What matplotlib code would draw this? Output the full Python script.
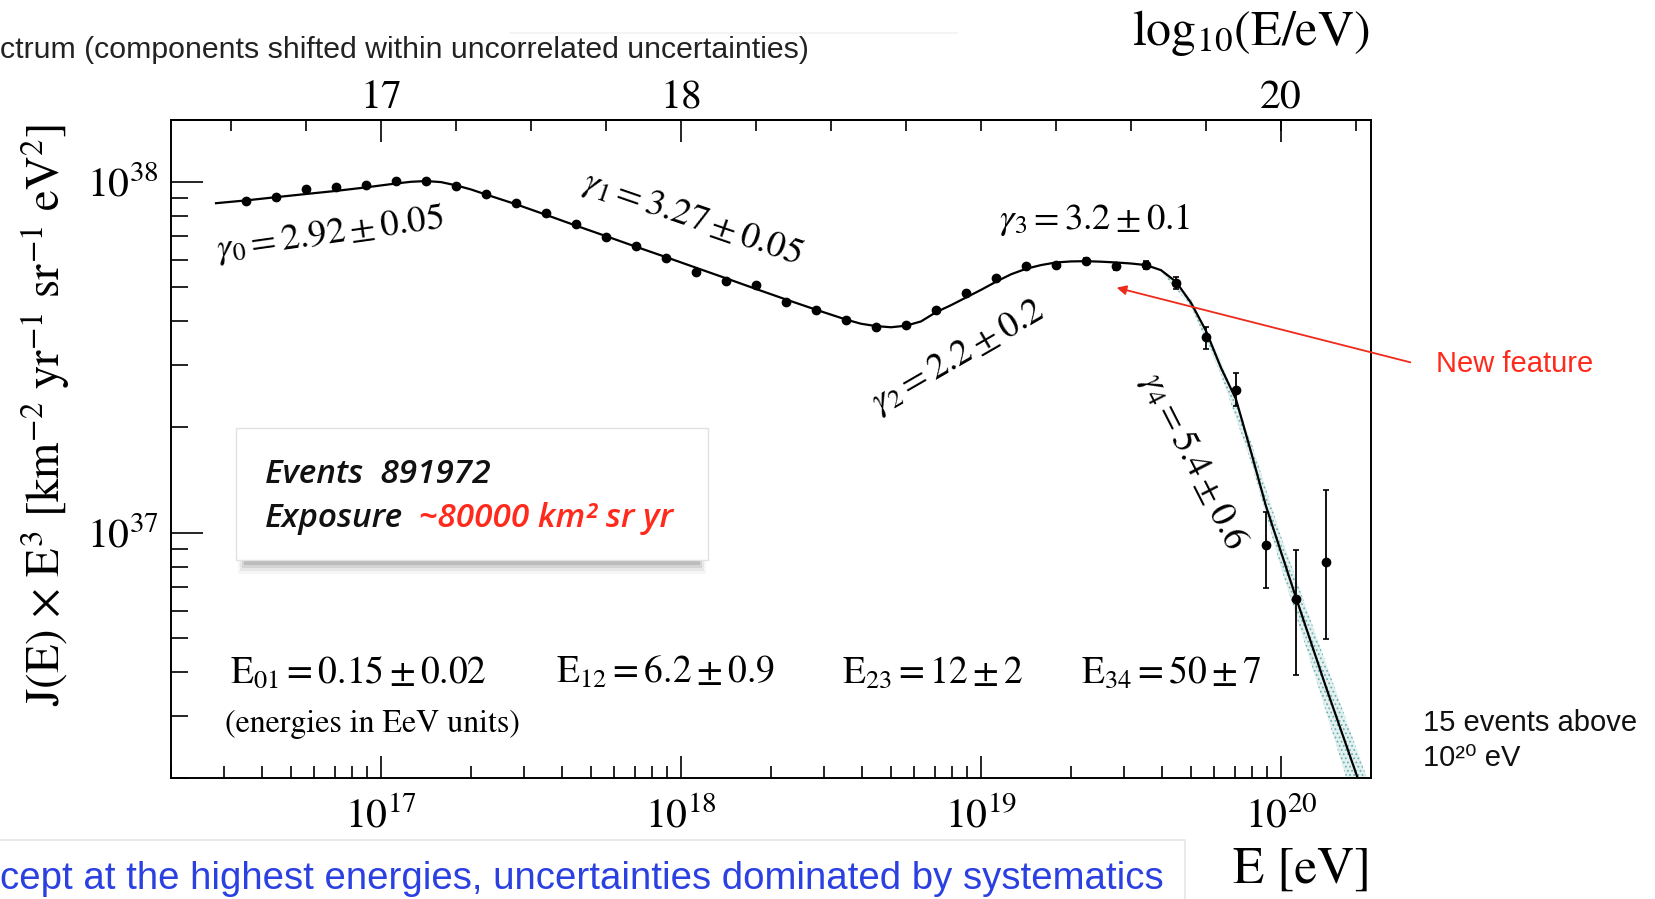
#!/usr/bin/env python3
# combined energy spectrum, E^3-weighted, with the broken power-law fit

import numpy as np
import matplotlib
matplotlib.use('Agg')
import matplotlib.pyplot as plt
from matplotlib.ticker import MultipleLocator, NullFormatter
from matplotlib.patches import Rectangle
from matplotlib.lines import Line2D

plt.rcParams['font.family'] = 'STIXGeneral'
plt.rcParams['mathtext.fontset'] = 'stix'
plt.rcParams['hatch.linewidth'] = 0.8

# data points: bin centres in log10(E/eV), J x E^3 in units of 1e37
log_e = [16.55, 16.65, 16.75, 16.85, 16.95, 17.05, 17.15, 17.25, 17.35, 17.45,
         17.55, 17.65, 17.75, 17.85, 17.95, 18.05, 18.15, 18.25, 18.35, 18.45,
         18.55, 18.65, 18.75, 18.85, 18.95, 19.05, 19.15, 19.25, 19.35, 19.45,
         19.55, 19.65, 19.75, 19.85, 19.95, 20.05, 20.15]
flux = [8.83, 9.08, 9.53, 9.64, 9.79, 10.05, 10.02, 9.70, 9.23, 8.69,
        8.15, 7.60, 6.98, 6.55, 6.08, 5.52, 5.22, 5.09, 4.53, 4.32,
        4.03, 3.86, 3.90, 4.32, 4.82, 5.33, 5.75, 5.81, 5.94, 5.74,
        5.79, 5.14, 3.62, 2.55, 0.925, 0.649, 0.826]

# error bars (only visible for the highest energy bins)
err_log_e = [19.35, 19.45, 19.55, 19.65, 19.75, 19.85, 19.95, 20.05, 20.15]
err_lo = [0.12, 0.12, 0.15, 0.20, 0.28, 0.26, 0.227, 0.255, 0.328]
err_hi = [0.12, 0.12, 0.15, 0.20, 0.24, 0.31, 0.223, 0.246, 0.494]

# fit curve
fit_log_e = [16.45, 16.55, 16.65, 16.75, 16.85, 16.95, 17.05, 17.10, 17.15, 17.20,
             17.25, 17.30, 17.35, 17.45, 17.55, 17.65, 17.75, 17.85, 17.95, 18.05,
             18.15, 18.25, 18.35, 18.45, 18.55, 18.60, 18.65, 18.70, 18.75, 18.80,
             18.85, 18.90, 18.95, 19.00, 19.05, 19.10, 19.15, 19.20, 19.25, 19.30,
             19.35, 19.40, 19.45, 19.50, 19.55, 19.60, 19.65, 19.70, 19.75, 19.80,
             19.85, 19.90, 19.95, 20.05, 20.15, 20.26]
fit_flux = [8.69, 8.85, 9.04, 9.23, 9.42, 9.64, 9.89, 10.00, 10.05, 9.98,
            9.77, 9.51, 9.20, 8.63, 8.05, 7.50, 7.00, 6.53, 6.10, 5.69,
            5.31, 4.95, 4.62, 4.32, 4.05, 3.94, 3.88, 3.85, 3.89, 4.00,
            4.25, 4.45, 4.68, 4.92, 5.19, 5.45, 5.65, 5.79, 5.89, 5.93,
            5.94, 5.92, 5.89, 5.85, 5.79, 5.60, 5.19, 4.52, 3.76, 2.95,
            2.40, 1.70, 1.19, 0.653, 0.363, 0.195]

# uncertainty band on the last power law
band_log_e = [19.6, 19.7, 19.8, 19.9, 20.0, 20.1, 20.2, 20.3]
band_lo = [5.54, 4.42, 2.82, 1.59, 0.794, 0.425, 0.224, 0.118]
band_hi = [5.66, 4.62, 3.09, 1.82, 0.978, 0.560, 0.323, 0.186]

W, H = 1656, 899
def fx(x):
    return x / W
def fy(y):
    return 1 - y / H

fig = plt.figure(figsize=(W / 100, H / 100), dpi=100)
ax = fig.add_axes([fx(171), fy(778), 1200 / W, 658 / H])

e = lambda v: 10 ** np.array(v)
j = lambda v: np.array(v) * 1e37

ax.fill_between(e(band_log_e), j(band_lo), j(band_hi), facecolor='#e2f0f0',
                edgecolor='#6fb0b0', hatch='....', lw=0, zorder=1)
ax.plot(e(fit_log_e), j(fit_flux), color='k', lw=1.6, zorder=3)
eflux = [flux[log_e.index(v)] for v in err_log_e]
ax.errorbar(e(err_log_e), j(eflux), yerr=[j(err_lo), j(err_hi)], fmt='none',
            ecolor='k', elinewidth=1.3, capsize=2, capthick=1.2, zorder=4)
ax.plot(e(log_e), j(flux), 'o', color='k', ms=6, zorder=5)

ax.set_xscale('log')
ax.set_yscale('log')
ax.set_xlim(10 ** 16.3, 10 ** 20.3)
ax.set_ylim(2e36, 1.5e38)

for s in ax.spines.values():
    s.set_linewidth(1.4)
ax.tick_params(which='both', direction='in', top=False, right=False, width=1.2)
ax.tick_params(axis='x', which='major', length=16, labelsize=30, pad=14)
ax.tick_params(axis='x', which='minor', length=8.5)
ax.tick_params(axis='y', which='major', length=23, labelsize=30, pad=9)
ax.tick_params(axis='y', which='minor', length=12)
ax.xaxis.set_minor_formatter(NullFormatter())
ax.yaxis.set_minor_formatter(NullFormatter())

sec = ax.secondary_xaxis('top', functions=(np.log10, lambda v: 10 ** v))
sec.set_xticks([17, 18, 19, 20])
sec.set_xticklabels(['17', '18', '19', '20'])
sec.xaxis.set_minor_locator(MultipleLocator(0.25))
sec.xaxis.set_minor_formatter(NullFormatter())
sec.tick_params(which='both', direction='in', width=1.2)
sec.tick_params(which='major', length=16, labelsize=30, pad=2)
sec.tick_params(which='minor', length=8)
sec.spines['top'].set_linewidth(1.4)

# axis titles
fig.text(fx(45), fy(415), r'J(E) $\times$ E$^3$ [km$^{-2}$ yr$^{-1}$ sr$^{-1}$ eV$^2$]',
         rotation=90, ha='center', va='center', fontsize=33.5)
fig.text(fx(1371), fy(883), 'E [eV]', ha='right', va='baseline', fontsize=37)
fig.text(fx(1370), fy(45), r'log$_{10}$(E/eV)', ha='right', va='baseline', fontsize=36)

# slopes
gam = [(r'$\gamma_0 = 2.92 \pm 0.05$', 330, 234, 8),
       (r'$\gamma_1 = 3.27 \pm 0.05$', 692, 218, -19),
       (r'$\gamma_2 = 2.2 \pm 0.2$', 958, 357, 30),
       (r'$\gamma_3 = 3.2 \pm 0.1$', 1095, 220, 0),
       (r'$\gamma_4 = 5.4 \pm 0.6$', 1193, 461, -63)]
for txt, x, y, rot in gam:
    fig.text(fx(x), fy(y), txt, ha='center', va='center', rotation=rot,
             rotation_mode='anchor', fontsize=26.5)

# break energies
brk = [(r'$\mathrm{E}_{01} = 0.15 \pm 0.02$', 230),
       (r'$\mathrm{E}_{12} = 6.2 \pm 0.9$', 556),
       (r'$\mathrm{E}_{23} = 12 \pm 2$', 842),
       (r'$\mathrm{E}_{34} = 50 \pm 7$', 1081)]
for txt, x in brk:
    fig.text(fx(x), fy(683), txt, ha='left', va='baseline', fontsize=27)
fig.text(fx(225), fy(732), '(energies in EeV units)', ha='left', va='baseline', fontsize=23)

# events / exposure box with a soft shadow
for k, a in enumerate([0.06, 0.10, 0.16, 0.24]):
    fig.add_artist(Rectangle((fx(238 + 2 * k), fy(574 - 3 * k)), (468 - 4 * k) / W, 16 / H,
                             transform=fig.transFigure, facecolor='#707070',
                             edgecolor='none', alpha=a, zorder=5))
fig.add_artist(Rectangle((fx(236), fy(560)), 472 / W, 132 / H, transform=fig.transFigure,
                         facecolor='white', edgecolor='#e2e2e2', lw=1, zorder=6))
box_font = dict(family='Open Sans', style='italic', weight='semibold', fontsize=24, zorder=7)
fig.text(fx(265), fy(483), 'Events  891972', ha='left', va='baseline', color='#111111', **box_font)
fig.text(fx(265), fy(527), 'Exposure', ha='left', va='baseline', color='#111111', **box_font)
fig.text(fx(419), fy(527), '~80000 km² sr yr', ha='left', va='baseline', color='#ff2a1c', **box_font)

# new feature arrow
ax.annotate('', xy=(1114, H - 287), xycoords='figure pixels',
            xytext=(1413, H - 363), textcoords='figure pixels',
            arrowprops=dict(arrowstyle='-|>', color='#ee2a1c', lw=1.3, mutation_scale=14))
sans = ['Liberation Sans', 'DejaVu Sans']
fig.text(fx(1436), fy(364), 'New feature', ha='left', va='center', color='#ff2a1c',
         fontsize=21, family=sans)
fig.text(fx(1423), fy(723), '15 events above', ha='left', va='center', color='#111111',
         fontsize=21, family=sans)
fig.text(fx(1423), fy(758), '10²⁰ eV', ha='left', va='center', color='#111111',
         fontsize=21, family=sans)

# cut-off slide text around the plot
fig.text(fx(0), fy(50), 'ctrum (components shifted within uncorrelated uncertainties)',
         ha='left', va='center', color='#222222', fontsize=21.8, family=sans)
fig.add_artist(Line2D([fx(510), fx(957)], [fy(33), fy(33)], color='#f2f2f2', lw=1.2))
fig.add_artist(Line2D([0, fx(1185), fx(1185)], [fy(840), fy(840), 0], color='#e6e6e6', lw=1.2))
fig.text(fx(0), fy(879), 'cept at the highest energies, uncertainties dominated by systematics',
         ha='left', va='center', color='#2b40e0', fontsize=27.6, family=sans)

fig.savefig('out.png', dpi=100)
